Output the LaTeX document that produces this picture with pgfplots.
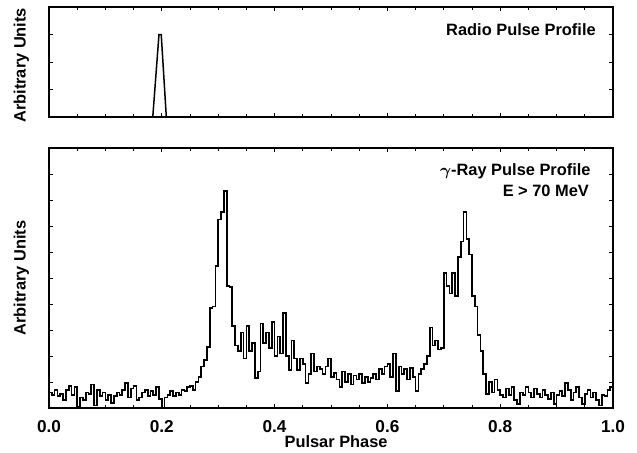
\documentclass[border=0pt]{standalone}
\usepackage{pgfplots}
\pgfplotsset{compat=1.18}
\usepackage{fontspec}
\setmainfont{Liberation Sans}

% shared look of both panels
\pgfplotsset{
  pulsar/.style={
    scale only axis,
    width=282pt,
    xmin=0, xmax=1,
    enlargelimits=false,
    axis line style={line width=0.6pt},
    tick style={black, line width=0.5pt},
    major tick length=2.2pt,
    minor tick length=1.3pt,
    xtick={0,0.2,0.4,0.6,0.8,1.0},
    minor x tick num=3,
    yticklabels={},
    font=\bfseries\fontsize{8.2}{9.6}\selectfont,
    label style={font=\bfseries\fontsize{8.2}{9.6}\selectfont},
    ticklabel style={font=\bfseries\fontsize{8.6}{9.6}\selectfont},
    /pgf/number format/assume math mode=true,
  },
}

\begin{document}
\begin{tikzpicture}
\useasboundingbox (0,0) rectangle (318.5pt,226pt);

% radio profile
\begin{axis}[pulsar,
  at={(24.5pt,167.5pt)}, anchor=south west,
  height=55pt,
  ymin=0, ymax=4,
  ytick={1,2,3},
  xticklabels={},
  ylabel={Arbitrary Units},
  ylabel style={at={(axis description cs:-0.049,0.47)}, anchor=center},
]
\addplot[black, line width=0.75pt] coordinates {
(0,0) (0.184,0) (0.195,3.0) (0.199,3.0) (0.208,0) (1,0)};
\node[anchor=east, inner sep=0pt] at (rel axis cs:0.970,0.79) {Radio Pulse Profile};
\end{axis}

% gamma-ray profile
\begin{axis}[pulsar,
  at={(24.5pt,22pt)}, anchor=south west,
  height=130pt,
  ymin=0, ymax=10,
  ytick={1,2,3,4,5,6,7,8,9},
  xticklabel style={yshift=-2.5pt,
    /pgf/number format/.cd, fixed, fixed zerofill, precision=1},
  xlabel={Pulsar Phase},
  xlabel style={at={(axis description cs:0.509,-0.131)}, anchor=center},
  ylabel={Arbitrary Units},
  ylabel style={at={(axis description cs:-0.049,0.5)}, anchor=center},
]
\addplot[black, line width=0.85pt, const plot mark left] coordinates {
(0.000,0.6) (0.005,0.5) (0.010,0.7) (0.015,0.45) (0.020,0.55)
(0.025,0.3) (0.030,0.7) (0.035,0.85) (0.040,0.5) (0.045,0.8)
(0.050,0.05) (0.055,0.4) (0.060,0.3) (0.065,0.6) (0.070,0.55)
(0.075,0.9) (0.080,0.1) (0.085,0.7) (0.090,0.45) (0.095,0.6)
(0.100,0.3) (0.105,0.5) (0.110,0.2) (0.115,0.45) (0.120,0.6)
(0.125,0.5) (0.130,0.7) (0.135,0.95) (0.140,0.4) (0.145,0.75)
(0.150,0.85) (0.155,0.3) (0.160,0.4) (0.165,0.6) (0.170,0.7)
(0.175,0.45) (0.180,0.65) (0.185,0.5) (0.190,0.8) (0.195,0.35)
(0.200,0.0) (0.205,0.4) (0.210,0.5) (0.215,0.65) (0.220,0.45)
(0.225,0.6) (0.230,0.5) (0.235,0.7) (0.240,0.65) (0.245,0.8)
(0.250,0.85) (0.255,0.7) (0.260,1.0) (0.265,1.2) (0.270,1.6)
(0.275,1.85) (0.280,2.35) (0.285,3.85) (0.290,3.9) (0.295,5.45)
(0.300,7.25) (0.305,7.55) (0.310,8.35) (0.315,4.7) (0.320,4.65)
(0.325,3.15) (0.330,2.4) (0.335,2.2) (0.340,2.9) (0.345,1.9)
(0.350,3.15) (0.355,2.2) (0.360,2.5) (0.365,1.15) (0.370,1.4)
(0.375,3.25) (0.380,2.5) (0.385,2.9) (0.390,2.3) (0.395,3.3)
(0.400,2.0) (0.405,2.75) (0.410,2.1) (0.415,3.65) (0.420,2.0)
(0.425,1.45) (0.430,2.6) (0.435,1.9) (0.440,1.45) (0.445,1.9)
(0.450,1.7) (0.455,0.95) (0.460,1.3) (0.465,2.1) (0.470,1.4)
(0.475,1.6) (0.480,1.5) (0.485,1.3) (0.490,1.6) (0.495,1.9)
(0.500,1.2) (0.505,1.35) (0.510,1.1) (0.515,0.8) (0.520,1.4)
(0.525,1.0) (0.530,1.3) (0.535,0.9) (0.540,1.25) (0.545,1.1)
(0.550,1.3) (0.555,0.95) (0.560,1.2) (0.565,1.0) (0.570,1.15)
(0.575,1.3) (0.580,1.1) (0.585,1.5) (0.590,1.3) (0.595,1.6)
(0.600,1.7) (0.605,1.2) (0.610,2.1) (0.615,0.65) (0.620,1.6)
(0.625,1.3) (0.630,1.5) (0.635,1.1) (0.640,1.55) (0.645,1.2)
(0.650,0.65) (0.655,1.3) (0.660,1.5) (0.665,1.7) (0.670,2.0)
(0.675,3.1) (0.680,2.4) (0.685,2.6) (0.690,2.25) (0.695,2.3)
(0.700,5.2) (0.705,4.7) (0.710,4.4) (0.715,5.2) (0.720,4.3)
(0.725,5.8) (0.730,6.4) (0.735,7.55) (0.740,6.5) (0.745,5.9)
(0.750,4.3) (0.755,3.9) (0.760,2.8) (0.765,2.2) (0.770,1.3)
(0.775,0.55) (0.780,1.0) (0.785,0.6) (0.790,1.1) (0.795,0.7)
(0.800,0.5) (0.805,0.4) (0.810,0.75) (0.815,0.5) (0.820,0.8)
(0.825,0.3) (0.830,0.15) (0.835,0.6) (0.840,0.5) (0.845,0.8)
(0.850,0.6) (0.855,0.4) (0.860,0.75) (0.865,0.55) (0.870,0.4)
(0.875,0.7) (0.880,0.5) (0.885,0.35) (0.890,0.6) (0.895,0.15)
(0.900,0.5) (0.905,0.65) (0.910,0.45) (0.915,0.95) (0.920,0.7)
(0.925,0.3) (0.930,0.6) (0.935,0.8) (0.940,0.4) (0.945,0.15)
(0.950,0.55) (0.955,0.7) (0.960,0.4) (0.965,0.6) (0.970,0.3)
(0.975,0.1) (0.980,0.5) (0.985,0.45) (0.990,0.7) (0.995,0.8)
(1.000,0.8)};
\node[anchor=east, inner sep=0pt] at (rel axis cs:0.961,0.909) {{\boldmath$\gamma$}-Ray Pulse Profile};
\node[anchor=east, inner sep=0pt] at (rel axis cs:0.958,0.835) {E > 70 MeV};
\end{axis}
\end{tikzpicture}
\end{document}
